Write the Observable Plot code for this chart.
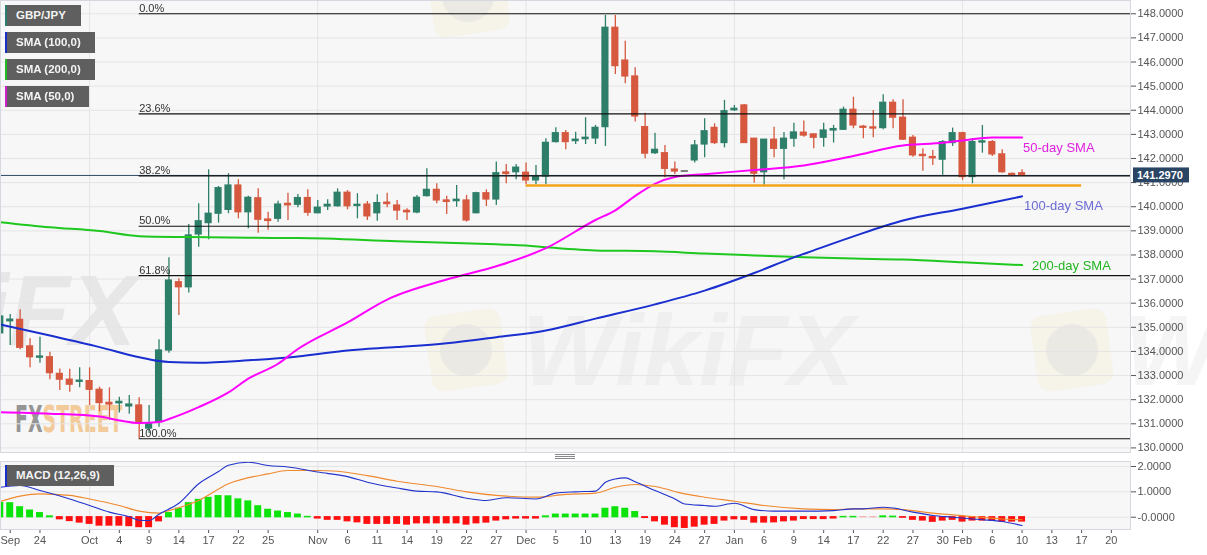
<!DOCTYPE html>
<html><head><meta charset="utf-8">
<script src="https://cdn.jsdelivr.net/npm/d3@7"></script>
<script src="https://cdn.jsdelivr.net/npm/@observablehq/plot@0.6"></script>
<style>
body{margin:0;background:#fff;font-family:"Liberation Sans",Arial,sans-serif}
#wrap{position:relative;width:1207px;height:555px;overflow:hidden;background:#fff}
.abs{position:absolute;left:0;top:0}
.tag{position:absolute;left:5px;height:21px;background:#5f5f5f;color:#f4f4f4;font:bold 11.5px "Liberation Sans",Arial,sans-serif;line-height:21px;padding-left:9px;box-sizing:border-box;border-left:2px solid}
.grip{position:absolute;left:555px;width:20px;height:1px;background:#888}
</style></head><body>
<div id="wrap">
  <div class="abs" style="width:1130px;height:452px;background:#f7f7f7"></div>
  <div class="abs" style="top:461px;width:1130px;height:68px;background:#f7f7f7"></div>
  <svg class="abs" width="1207" height="555" font-family="Liberation Sans, Arial, sans-serif">
    <g opacity="0.45">
      <rect x="428" y="312" width="76" height="76" rx="12" fill="#f3e3b5" opacity="0.5" transform="rotate(-8 466 350)"/>
      <circle cx="466" cy="350" r="26" fill="#bdbdbd" opacity="0.4"/>
      <rect x="1034" y="312" width="76" height="76" rx="12" fill="#f3e3b5" opacity="0.5" transform="rotate(-8 1072 350)"/>
      <circle cx="1072" cy="350" r="26" fill="#bdbdbd" opacity="0.4"/>
      <rect x="430" y="-42" width="76" height="76" rx="12" fill="#f3e3b5" opacity="0.5" transform="rotate(-8 468 -4)"/>
      <circle cx="468" cy="-4" r="26" fill="#bdbdbd" opacity="0.4"/>
    </g>
    <g fill="#b0b0b0" font-weight="bold" font-style="italic" font-size="100">
      <text x="-196" y="345" opacity="0.22">WikiFX</text>
      <text x="522" y="385" opacity="0.1">WikiFX</text>
      <text x="1124" y="385" opacity="0.12">WikiFX</text>
    </g>
    <text transform="translate(15,432) scale(0.78,1.37)" font-family="DejaVu Sans Condensed, DejaVu Sans, sans-serif" font-weight="bold" font-size="27" opacity="0.9"><tspan fill="#8b8b8b">FX</tspan><tspan fill="#f3c68f">STREET</tspan></text>
  </svg>
  <div id="mainHost" class="abs"></div>
  <div id="macdHost" class="abs" style="top:455px"></div>
  <div class="tag" style="top:5px;width:76px;border-left-color:#2c7e6c">GBP/JPY</div>
  <div class="tag" style="top:32px;width:90px;border-left-color:#1a2fc8">SMA (100,0)</div>
  <div class="tag" style="top:59px;width:90px;border-left-color:#22bb22">SMA (200,0)</div>
  <div class="tag" style="top:86px;width:84px;border-left-color:#cc22cc">SMA (50,0)</div>
  <div class="tag" style="top:465px;width:109px;border-left-color:#1a2fc8">MACD (12,26,9)</div>
  <div class="grip" style="top:454px"></div>
  <div class="grip" style="top:456px"></div>
  <div class="grip" style="top:458px"></div>
</div>
<script>
// ---------- DATA ----------
const firstSlot = -1; // trading-day index of the first bar
const open = [
  134.75,
  135.25,135.31,134.21,133.74,133.76,133.07,132.83,132.74,132.77,132.41,
  131.87,131.85,131.72,131.76,130.80,131.07,134.04,136.87,136.66,138.85,
  139.32,139.71,139.87,140.88,139.77,140.35,139.47,139.50,140.12,140.08,
  140.36,139.73,140.01,140.02,140.58,140.03,140.09,139.73,140.17,140.05,
  139.83,139.76,140.44,140.70,140.26,140.23,140.26,139.73,140.56,140.30,
  141.42,141.43,141.41,141.09,141.25,142.68,143.05,142.72,142.80,142.83,
  143.30,147.42,146.06,145.40,143.30,142.22,142.22,141.54,141.46,141.92,
  142.58,143.27,142.64,144.00,144.20,142.82,141.43,142.78,142.40,142.82,
  143.07,143.00,142.86,143.16,143.19,144.02,143.32,143.29,143.26,144.31,
  143.69,142.86,142.15,142.06,141.95,142.64,143.05,141.23,142.66,142.68,
  142.17,141.36,141.39
];
const high = [
  135.70,
  135.53,135.73,134.53,134.59,133.97,133.27,133.26,133.32,133.32,132.52,
  132.49,132.10,132.17,132.08,131.76,134.48,137.88,137.01,139.26,140.12,
  141.53,140.84,141.37,141.12,140.43,140.74,139.77,140.23,140.56,140.51,
  140.70,140.26,140.29,140.74,140.67,140.54,140.22,140.50,140.56,140.26,
  139.92,140.47,141.57,140.95,140.43,140.88,140.47,140.60,140.70,141.85,
  141.75,141.75,141.81,141.71,142.82,143.27,143.16,143.09,143.69,143.37,
  147.93,147.93,146.86,145.76,143.88,143.05,142.54,141.85,141.46,142.75,
  143.65,143.44,144.41,144.20,144.24,142.82,142.78,143.30,143.08,143.46,
  143.55,143.02,143.46,143.37,144.13,144.54,143.37,143.99,144.64,144.43,
  144.43,142.95,142.40,142.33,142.75,143.26,143.09,142.82,143.37,142.75,
  142.36,141.40,141.53
];
const low = [
  134.60,
  134.25,134.07,133.32,133.51,132.83,132.38,132.31,132.49,131.76,131.50,
  131.14,131.45,131.40,130.38,130.60,130.86,133.93,135.49,136.42,138.32,
  138.63,139.32,139.71,139.50,139.09,138.90,139.02,139.36,139.43,139.96,
  139.60,139.71,139.84,139.98,139.87,139.50,139.43,139.40,139.96,139.43,
  139.43,139.71,140.40,140.12,139.68,139.98,139.36,139.71,140.01,140.05,
  140.95,141.12,140.92,140.92,140.92,142.64,142.36,142.58,142.58,142.58,
  142.50,145.48,145.10,143.51,141.99,142.17,141.20,141.34,141.46,141.81,
  142.03,142.58,142.44,143.95,142.64,140.98,140.88,142.03,141.12,142.47,
  142.88,142.40,142.47,142.64,143.16,143.23,142.82,142.86,143.19,143.23,
  142.75,142.05,141.47,141.71,141.30,142.50,141.09,140.95,142.22,142.08,
  141.39,141.30,141.25
];
const close = [
  135.45,
  135.32,134.15,133.76,133.79,133.10,132.83,132.62,132.79,132.41,131.86,
  131.80,131.91,131.80,131.03,131.00,134.04,136.94,136.66,138.81,139.40,
  139.71,140.77,140.88,139.77,140.37,139.46,139.41,140.09,140.06,140.36,
  139.75,139.96,140.08,140.58,140.02,140.08,139.60,140.15,140.11,139.84,
  139.77,140.37,140.70,140.26,140.20,140.29,139.43,140.56,140.30,141.39,
  141.36,141.62,141.09,141.23,142.65,143.05,142.68,142.78,142.86,143.27,
  147.42,145.83,145.40,143.74,142.20,142.36,141.57,141.46,141.46,142.54,
  143.13,142.64,143.96,144.06,142.64,141.37,142.78,142.40,142.82,143.08,
  142.95,142.86,143.16,143.22,144.02,143.37,143.27,143.24,144.31,143.69,
  142.78,142.13,142.10,142.01,142.68,143.05,141.23,142.68,142.71,142.17,
  141.43,141.32,141.297
];
const histogram = [
  0.56,
  0.55,0.39,0.26,0.16,0.03,-0.08,-0.15,-0.21,-0.26,-0.33,
  -0.33,-0.33,-0.35,-0.39,-0.39,-0.16,0.16,0.33,0.55,0.68,
  0.76,0.83,0.82,0.70,0.62,0.43,0.29,0.22,0.16,0.10,
  0.01,-0.05,-0.10,-0.10,-0.16,-0.20,-0.26,-0.26,-0.26,-0.26,
  -0.29,-0.24,-0.24,-0.24,-0.24,-0.24,-0.29,-0.24,-0.21,-0.13,
  -0.08,-0.05,-0.05,-0.05,0.03,0.10,0.10,0.10,0.10,0.10,
  0.33,0.39,0.33,0.20,-0.03,-0.16,-0.29,-0.39,-0.42,-0.37,
  -0.29,-0.26,-0.13,-0.08,-0.10,-0.21,-0.21,-0.20,-0.16,-0.13,
  -0.07,-0.07,-0.07,-0.05,0.01,0.01,0,0,0.03,0.02,
  -0.02,-0.10,-0.13,-0.18,-0.13,-0.10,-0.17,-0.13,-0.13,-0.13,
  -0.17,-0.17,-0.17
];
const macdSlots   = [-1,1,3,6,8,10,12,13,14,15,17,19,21,22,24,26,28,31,34,36,39,41,43,46,48,50,53,55,57,59,60,61,62,63,65,67,68,70,71,73,75,77,80,83,85,86,88,89,91,93,95,97,98,100,102];
const macdValues  = [1.18,1.25,1.05,0.72,0.46,0.20,0.02,-0.12,-0.13,0.12,0.55,1.32,1.80,2.05,2.17,2.04,1.98,1.78,1.60,1.38,1.15,1.03,1.00,0.75,0.66,0.77,0.72,0.95,1.00,1.03,1.38,1.51,1.55,1.40,1.05,0.72,0.52,0.46,0.43,0.55,0.30,0.24,0.24,0.26,0.33,0.33,0.39,0.36,0.20,0.07,0.00,-0.07,-0.10,-0.17,-0.33];
const signalSlots = [-1,1,3,6,8,11,13,15,16,19,22,26,28,31,33,36,39,43,46,49,53,56,59,61,63,65,68,70,73,76,80,83,85,88,90,93,97,100,102];
const signalValues= [0.62,0.83,0.92,0.86,0.72,0.46,0.24,0.16,0.26,0.66,1.32,1.71,1.84,1.84,1.81,1.64,1.42,1.21,1.00,0.86,0.79,0.90,0.95,1.18,1.29,1.21,0.92,0.79,0.63,0.46,0.33,0.30,0.33,0.33,0.30,0.16,0.03,-0.07,-0.10];

const sma50Slots   = [-1,4,9,11,13,15,16,19,22,24,27,29,34,38,44,49,54,59,61,63,65,67,70,75,80,85,90,93,96,99,102];
const sma50Values  = [131.48,131.42,131.30,131.14,131.03,131.07,131.20,131.69,132.30,132.87,133.49,134.10,135.20,136.15,136.98,137.53,138.28,139.45,139.85,140.45,140.95,141.23,141.35,141.52,141.71,142.10,142.54,142.62,142.75,142.87,142.87];
const sma100Slots  = [-1,4,9,13,15,16,19,24,29,34,39,44,49,54,59,65,70,75,79,81,85,90,96,102];
const sma100Values = [135.12,134.66,134.18,133.76,133.60,133.56,133.53,133.63,133.79,134.04,134.18,134.34,134.59,134.87,135.36,135.95,136.52,137.25,137.90,138.19,138.77,139.43,139.92,140.43];
const sma200Slots  = [-1,4,9,13,18,24,29,39,49,52,54,59,65,70,75,80,85,90,96,102];
const sma200Values = [139.36,139.15,138.99,138.78,138.74,138.71,138.70,138.57,138.44,138.39,138.32,138.19,138.15,138.06,137.98,137.90,137.85,137.81,137.70,137.58];

const fibLabels = ["0.0%","23.6%","38.2%","50.0%","61.8%","100.0%"];
const fibLevels = [148.00,143.85,141.28,139.19,137.14,130.38];
const fibStartSlot = 13;
const supportLevel = 140.88, supportFrom = 52, supportTo = 108;
const lastClose = 141.297;

const tickSlots  = [0,3,8,11,14,17,20,23,26,31,34,37,40,43,46,49,52,55,58,61,64,67,70,73,76,79,82,85,88,91,94,96,99,102,105,108,111];
const tickLabels = ["Sep","24","Oct","4","9","14","17","22","25","Nov","6","11","14","19","22","27","Dec","5","10","13","19","24","27","Jan","6","9","14","17","22","27","30","Feb","6","10","13","17","20"];
const monthSlots = [8,31,52,73,96];
const priceTicks = [130,131,132,133,134,135,136,137,138,139,140,141,142,143,144,145,146,147,148];
const macdTicks = [0,1,2];
const macdTickLabels = ["-0.0000","1.0000","2.0000"];

// ---------- BUILD ----------
const xDomain = [-0.98, 112.93];
const bars = open.map((o, i) => ({s: firstSlot + i, o, h: high[i], l: low[i], c: close[i], m: histogram[i]}));
const GREEN = "#2e7f69", RED = "#d5583f";
const candleColor = d => d.c > d.o ? GREEN : d.c < d.o ? RED : "#333";
const pts = (slots, vals) => slots.map((s, i) => ({s, v: vals[i]}));
const sma50 = pts(sma50Slots, sma50Values), sma100 = pts(sma100Slots, sma100Values), sma200 = pts(sma200Slots, sma200Values);
const labelMap = new Map(tickSlots.map((s, i) => [s, tickLabels[i]]));
const macdLabelMap = new Map(macdTicks.map((t, i) => [t, macdTickLabels[i]]));
const fmt4 = d3.format(".4f");
const HW = 0.36;
const baseStyle = {fontFamily: '"Liberation Sans", Arial, sans-serif', fontSize: "11px", color: "#555", background: "transparent", overflow: "visible"};

const main = Plot.plot({
  width: 1207, height: 455, marginLeft: 0, marginRight: 77, marginTop: 0, marginBottom: 3,
  style: baseStyle,
  x: {domain: xDomain, axis: null, label: null},
  y: {domain: [129.81, 148.55], axis: "right", label: null, ticks: priceTicks, tickFormat: fmt4, tickSize: 5, tickPadding: 2},
  marks: [
    Plot.ruleY(priceTicks, {stroke: "#e4e4e4"}),
    Plot.ruleX(monthSlots, {stroke: "#e4e4e4"}),
    Plot.ruleY([lastClose], {stroke: "#2f4a68", strokeWidth: 1}),
    Plot.ruleX(bars, {x: "s", y1: "l", y2: "h", stroke: candleColor, strokeWidth: 1.3}),
    Plot.rect(bars, {x1: d => d.s - HW, x2: d => d.s + HW, y1: d => Math.min(d.o, d.c), y2: d => Math.max(d.o, d.c), fill: candleColor, insetTop: -0.6, insetBottom: -0.6}),
    Plot.line(sma200, {x: "s", y: "v", curve: "monotone-x", stroke: "#1fc81f", strokeWidth: 2}),
    Plot.line(sma100, {x: "s", y: "v", curve: "monotone-x", stroke: "#1a2fcf", strokeWidth: 2}),
    Plot.line(sma50, {x: "s", y: "v", curve: "monotone-x", stroke: "#ff00ff", strokeWidth: 2}),
    Plot.ruleY(fibLevels, {x1: fibStartSlot, x2: xDomain[1], stroke: "#111", strokeWidth: 1.2}),
    Plot.text(fibLabels, {x: fibStartSlot, y: (d, i) => fibLevels[i], text: d => d, textAnchor: "start", lineAnchor: "bottom", dy: -2, fontSize: 11, fill: "#333"}),
    Plot.ruleY([supportLevel], {x1: supportFrom, x2: supportTo, stroke: "#f5a31a", strokeWidth: 2.5}),
    Plot.text([sma50.at(-1)], {x: "s", y: "v", text: () => "50-day SMA", dx: 1, dy: 10, textAnchor: "start", fontSize: 13, fill: "#e020e0"}),
    Plot.text([sma100.at(-1)], {x: "s", y: "v", text: () => "100-day SMA", dx: 2, dy: 9, textAnchor: "start", fontSize: 13, fill: "#6b6bd6"}),
    Plot.text([sma200.at(-1)], {x: "s", y: "v", text: () => "200-day SMA", dx: 10, dy: 1, textAnchor: "start", fontSize: 13, fill: "#22b522"}),
    Plot.frame({stroke: "#d5d8df"})
  ]
});
document.getElementById("mainHost").appendChild(main);

// current price tag on the right axis
const ys = main.scale("y");
const py = ys.apply(lastClose);
const tag = d3.select(main).append("g").attr("text-anchor", "start");
tag.append("rect").attr("x", 1133).attr("y", py - 7.5).attr("width", 56).attr("height", 15).attr("fill", "#2a4464");
tag.append("text").attr("x", 1137).attr("y", py).attr("dy", "0.35em").attr("fill", "#fff")
  .attr("text-anchor", "start").attr("font-weight", "bold").attr("font-size", 11).text(fmt4(lastClose));

const macd = Plot.plot({
  width: 1207, height: 100, marginLeft: 0, marginRight: 77, marginTop: 6, marginBottom: 26,
  style: baseStyle,
  x: {domain: xDomain, label: null, ticks: tickSlots, tickFormat: d => labelMap.get(d), tickSize: 4, tickPadding: 3},
  y: {domain: [-0.485, 2.197], axis: "right", label: null, ticks: macdTicks, tickFormat: d => macdLabelMap.get(d), tickSize: 5, tickPadding: 2},
  marks: [
    Plot.ruleY(macdTicks, {stroke: "#e4e4e4"}),
    Plot.ruleX(monthSlots, {stroke: "#e4e4e4"}),
    Plot.rect(bars, {x1: d => d.s - 0.35, x2: d => d.s + 0.35, y1: 0, y2: "m", insetTop: -0.6, insetBottom: -0.6,
      fill: d => d.m > 0 ? "#0be30b" : d.m < 0 ? "#ff1010" : "#f4b0b0"}),
    Plot.line(pts(signalSlots, signalValues), {x: "s", y: "v", curve: "monotone-x", stroke: "#f0892e", strokeWidth: 1.1}),
    Plot.line(pts(macdSlots, macdValues), {x: "s", y: "v", curve: "monotone-x", stroke: "#2233cc", strokeWidth: 1.1}),
    Plot.frame({stroke: "#d5d8df"})
  ]
});
document.getElementById("macdHost").appendChild(macd);
</script>
</body></html>
